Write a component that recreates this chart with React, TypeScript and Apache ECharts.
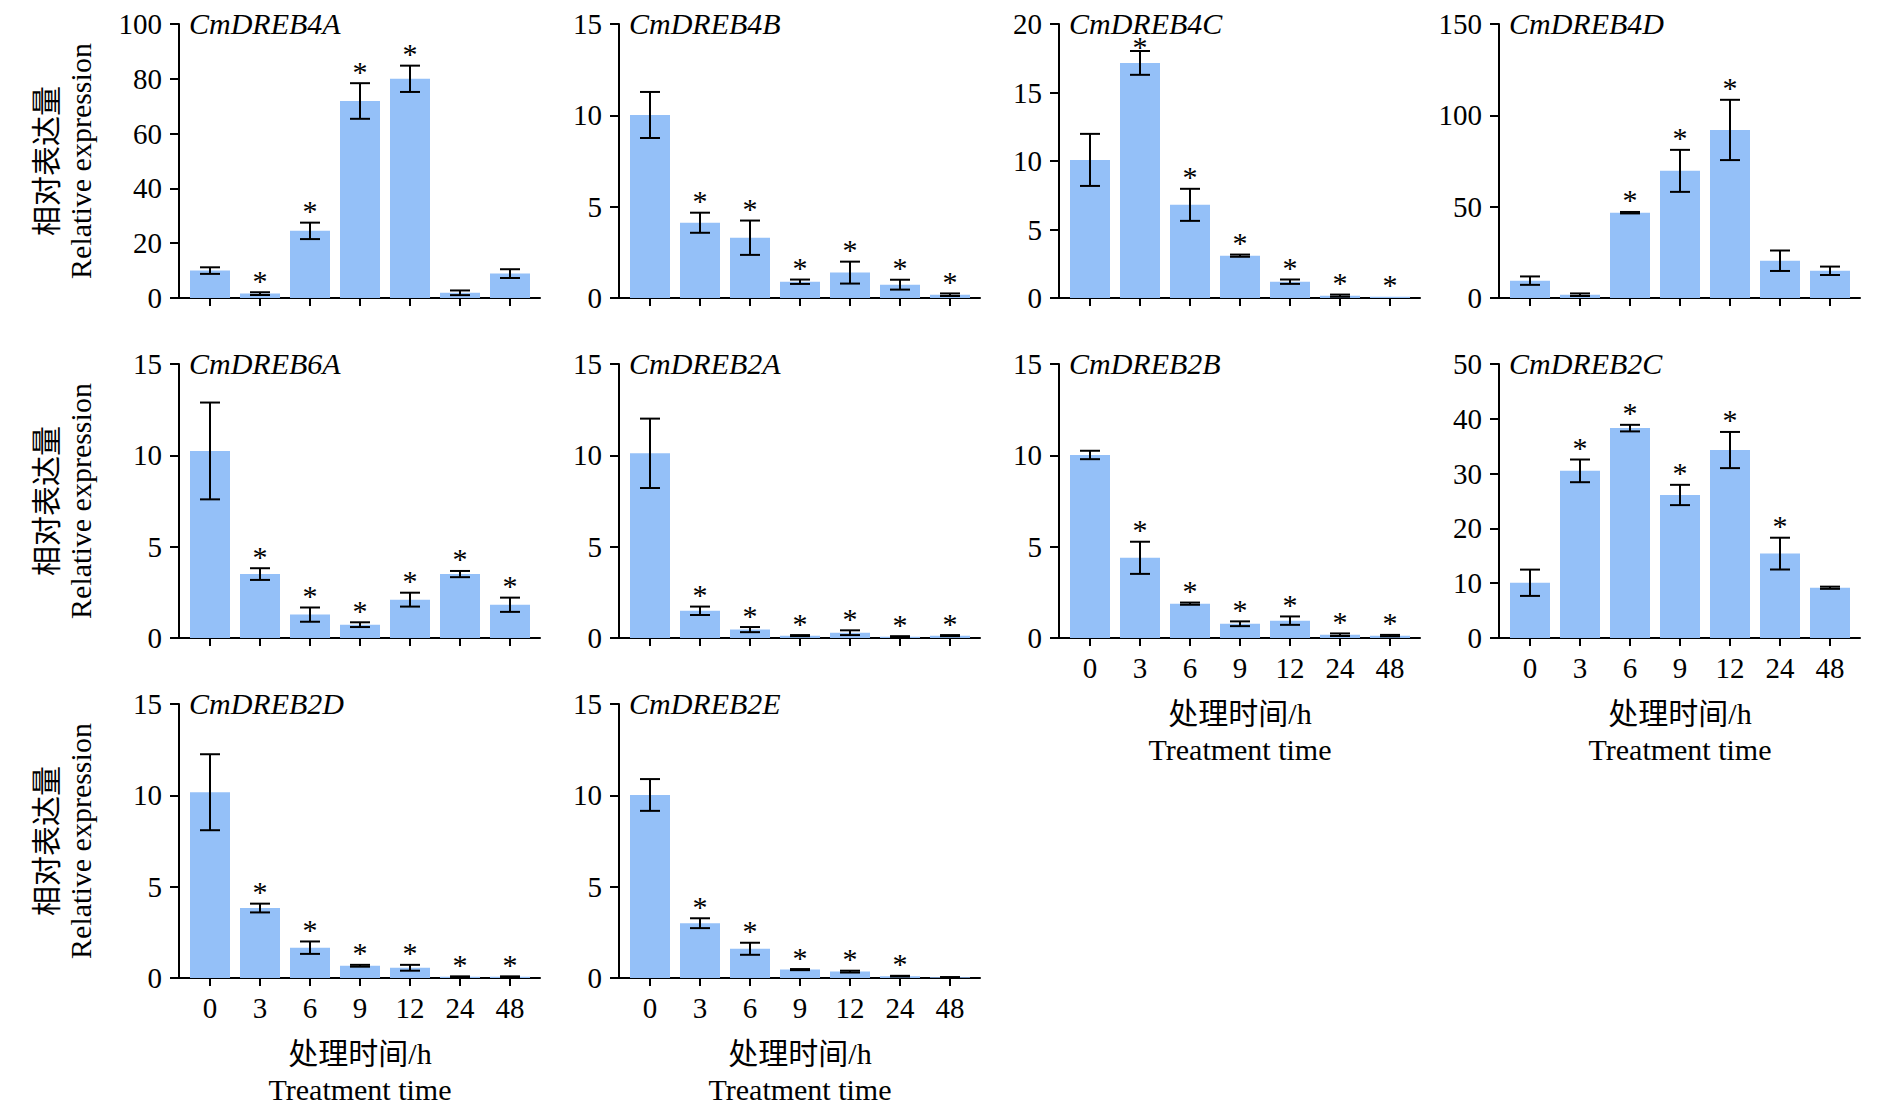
import React, { useEffect, useRef } from "react";
import * as echarts from "echarts";

// ---------- data ----------
const CATS = ["0", "3", "6", "9", "12", "24", "48"];
const GENES = ["CmDREB4A", "CmDREB4B", "CmDREB4C", "CmDREB4D", "CmDREB6A", "CmDREB2A", "CmDREB2B", "CmDREB2C", "CmDREB2D", "CmDREB2E"];

const mean4A = [10.0, 1.6, 24.5, 71.9, 80.0, 1.9, 8.9];
const err4A = [1.2, 0.5, 3.0, 6.5, 4.8, 0.85, 1.6];
const star4A = [0, 1, 1, 1, 1, 0, 0];

const mean4B = [10.02, 4.12, 3.3, 0.89, 1.39, 0.73, 0.18];
const err4B = [1.26, 0.55, 0.94, 0.12, 0.6, 0.27, 0.07];
const star4B = [0, 1, 1, 1, 1, 1, 1];

const mean4C = [10.08, 17.16, 6.8, 3.09, 1.19, 0.17, 0.1];
const err4C = [1.9, 0.87, 1.17, 0.08, 0.16, 0.08, 0];
const star4C = [0, 1, 1, 1, 1, 1, 1];

const mean4D = [9.5, 1.8, 46.7, 69.6, 92.0, 20.4, 14.9];
const err4D = [2.3, 0.7, 0.4, 11.5, 16.5, 5.6, 2.3];
const star4D = [0, 0, 1, 1, 1, 0, 0];

const mean6A = [10.24, 3.5, 1.28, 0.73, 2.1, 3.5, 1.82];
const err6A = [2.65, 0.32, 0.39, 0.13, 0.38, 0.17, 0.39];
const star6A = [0, 1, 1, 1, 1, 1, 1];

const mean2A = [10.11, 1.49, 0.46, 0.13, 0.29, 0.07, 0.13];
const err2A = [1.9, 0.23, 0.14, 0.03, 0.13, 0.03, 0.03];
const star2A = [0, 1, 1, 1, 1, 1, 1];

const mean2B = [10.02, 4.39, 1.88, 0.78, 0.95, 0.18, 0.13];
const err2B = [0.23, 0.88, 0.06, 0.13, 0.23, 0.07, 0.04];
const star2B = [0, 1, 1, 1, 1, 1, 1];

const mean2C = [10.08, 30.5, 38.3, 26.1, 34.3, 15.4, 9.17];
const err2C = [2.4, 2.07, 0.6, 1.85, 3.3, 2.9, 0.2];
const star2C = [0, 1, 1, 1, 1, 1, 0];

const mean2D = [10.17, 3.83, 1.66, 0.67, 0.56, 0.07, 0.07];
const err2D = [2.08, 0.24, 0.34, 0.05, 0.16, 0.02, 0.02];
const star2D = [0, 1, 1, 1, 1, 1, 1];

const mean2E = [10.02, 3.0, 1.6, 0.46, 0.35, 0.1, 0.04];
const err2E = [0.87, 0.27, 0.33, 0.03, 0.05, 0.02, 0.01];
const star2E = [0, 1, 1, 1, 1, 1, 0];

const Y_MAX = [100, 15, 20, 150, 15, 15, 15, 50, 15, 15];
const Y_STEP = [20, 5, 5, 50, 5, 5, 5, 10, 5, 5];

const MEANS = [mean4A, mean4B, mean4C, mean4D, mean6A, mean2A, mean2B, mean2C, mean2D, mean2E];
const ERRS = [err4A, err4B, err4C, err4D, err6A, err2A, err2B, err2C, err2D, err2E];
const STARS = [star4A, star4B, star4C, star4D, star6A, star2A, star2B, star2C, star2D, star2E];

const X_LABEL_PANELS = [6, 7, 8, 9];
const Y_NAME_PANELS = [0, 4, 8];

const X_NAME = "处理时间/h\nTreatment time";
const Y_NAME = "相对表达量\nRelative expression";

// ---------- layout / style ----------
const COL_X = [179, 619, 1059, 1499];
const ROW_Y = [24, 364, 704];
const PLOT_H = 274;
const BAR_COLOR = "#94C0F8";
const FONT = '"Liberation Serif", "Times New Roman", "Noto Sans CJK SC", serif';

function buildOption() {
  const grid: any[] = [];
  const xAxis: any[] = [];
  const yAxis: any[] = [];
  const series: any[] = [];
  const graphic: any[] = [];

  GENES.forEach((gene, i) => {
    const row = Math.floor(i / 4);
    const col = i % 4;
    const ax = COL_X[col];
    const top = ROW_Y[row];
    const gi = grid.length;
    const showX = X_LABEL_PANELS.includes(i);
    const showYName = Y_NAME_PANELS.includes(i);

    grid.push({ left: ax + 6, top, width: 350, height: PLOT_H });
    grid.push({ left: ax, top, width: 361, height: PLOT_H });

    xAxis.push({
      type: "category",
      gridIndex: gi,
      data: CATS,
      axisLine: { show: true, lineStyle: { color: "#000", width: 2 } },
      axisTick: { show: true, alignWithLabel: true, length: 8, lineStyle: { color: "#000", width: 2 } },
      axisLabel: { show: showX, color: "#000", fontSize: 29, fontFamily: FONT, margin: 15, interval: 0 },
      splitLine: { show: false },
      name: showX ? X_NAME : "",
      nameLocation: "middle",
      nameGap: 57,
      nameTextStyle: { color: "#000", fontSize: 30, fontFamily: FONT, lineHeight: 36 },
    });
    yAxis.push({
      type: "value",
      gridIndex: gi,
      min: 0,
      max: Y_MAX[i],
      interval: Y_STEP[i],
      offset: 6,
      axisLine: { show: true, lineStyle: { color: "#000", width: 2 } },
      axisTick: { show: true, length: 9, lineStyle: { color: "#000", width: 2 } },
      axisLabel: { color: "#000", fontSize: 29, fontFamily: FONT, margin: 17 },
      splitLine: { show: false },
      name: showYName ? Y_NAME : "",
      nameLocation: "middle",
      nameGap: 82,
      nameTextStyle: { color: "#000", fontSize: 30, fontFamily: FONT, lineHeight: 34 },
    });
    // helper axis to extend the baseline over the full panel width
    xAxis.push({
      type: "value",
      gridIndex: gi + 1,
      min: 0,
      max: 1,
      axisLine: { show: true, lineStyle: { color: "#000", width: 2 } },
      axisTick: { show: false },
      axisLabel: { show: false },
      splitLine: { show: false },
    });
    yAxis.push({ type: "value", gridIndex: gi + 1, min: 0, max: 1, show: false });

    const mean = MEANS[i];
    const err = ERRS[i];
    const star = STARS[i];
    series.push({
      type: "bar",
      xAxisIndex: gi,
      yAxisIndex: gi,
      data: mean,
      barWidth: 40,
      itemStyle: { color: BAR_COLOR },
      silent: true,
    });
    series.push({
      type: "custom",
      xAxisIndex: gi,
      yAxisIndex: gi,
      clip: false,
      z: 5,
      silent: true,
      data: mean.map((m, k) => [k, m, err[k], star[k]]),
      renderItem: (params: any, api: any) => {
        const k = api.value(0);
        const m = api.value(1);
        const e = api.value(2);
        const s = api.value(3);
        const pTop = api.coord([k, m + e]);
        const pBot = api.coord([k, Math.max(m - e, 0)]);
        const cx = pTop[0];
        const children: any[] = [];
        const ls = { stroke: "#000", lineWidth: 2 };
        if (e > 0) {
          children.push({ type: "line", shape: { x1: cx, y1: pTop[1], x2: cx, y2: pBot[1] }, style: ls });
          children.push({ type: "line", shape: { x1: cx - 10, y1: pTop[1], x2: cx + 10, y2: pTop[1] }, style: ls });
          children.push({ type: "line", shape: { x1: cx - 10, y1: pBot[1], x2: cx + 10, y2: pBot[1] }, style: ls });
        }
        if (s) {
          // keep the asterisk clear of the panel title
          const sy = Math.max(pTop[1] - 12, top + 22);
          children.push({
            type: "text",
            style: {
              text: "*",
              x: cx,
              y: sy,
              fill: "#000",
              fontSize: 30,
              lineHeight: 14,
              fontFamily: FONT,
              align: "center",
              verticalAlign: "middle",
            },
          });
        }
        return { type: "group", children };
      },
    });

    graphic.push({
      type: "text",
      x: ax + 10,
      y: top - 1,
      style: {
        text: gene,
        fill: "#000",
        fontSize: 30,
        lineHeight: 24,
        fontStyle: "italic",
        fontFamily: FONT,
        align: "left",
        verticalAlign: "middle",
      },
    });
  });

  return {
    animation: false,
    backgroundColor: "#fff",
    grid,
    xAxis,
    yAxis,
    series,
    graphic,
  };
}

export default function App() {
  const ref = useRef<HTMLDivElement>(null);
  useEffect(() => {
    document.body.style.margin = "0";
    if (!ref.current) return;
    const chart = echarts.init(ref.current, undefined, { renderer: "svg" });
    chart.setOption(buildOption());
    return () => chart.dispose();
  }, []);
  return <div ref={ref} style={{ width: 1890, height: 1111, background: "#fff" }} />;
}
